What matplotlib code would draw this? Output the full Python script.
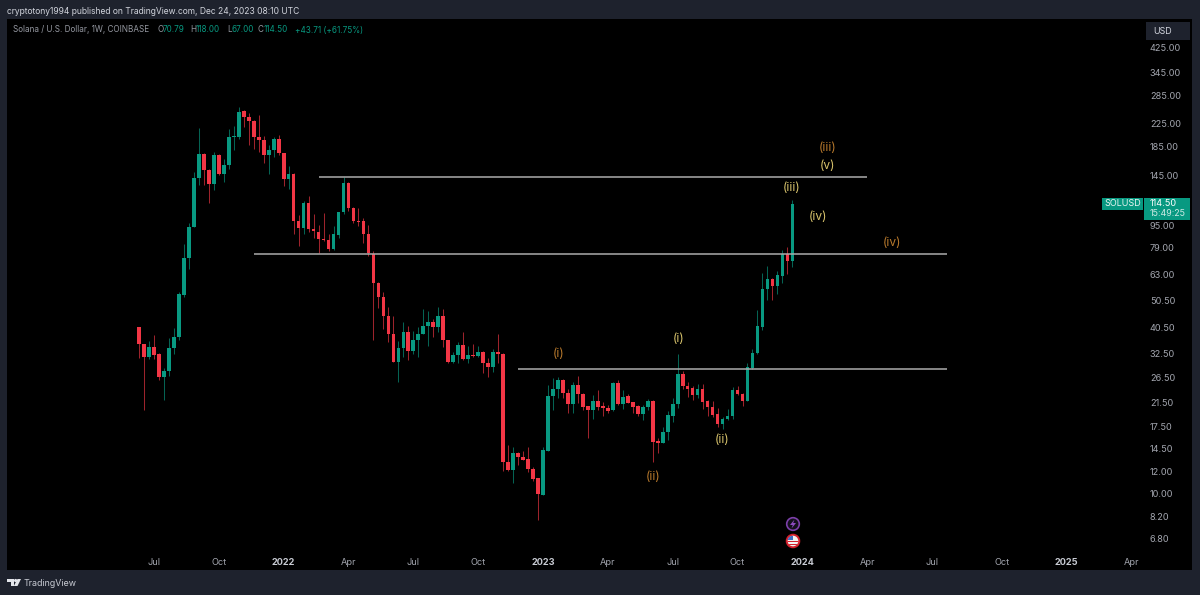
import matplotlib
matplotlib.use("Agg")
import matplotlib.pyplot as plt
from matplotlib.patches import Rectangle, Circle, Polygon
from matplotlib.ticker import FixedLocator, FixedFormatter, NullLocator
import numpy as np

# Weekly SOL/USD candles
opens = [40.4, 35.1, 31.6, 34.1, 32.2, 26.5, 28.0, 34.0, 37.4, 53.1,
         72.4, 94.1, 142, 174, 152, 135, 173, 147, 159, 200,
         201.5, 250, 238, 230, 200, 196, 172, 179.5, 198, 175,
         141, 147.5, 99.3, 93, 115, 92.5, 90, 85.2, 84.2, 78,
         88, 106.5, 136.5, 110.5, 99.3, 98.8, 89, 75, 58.7, 52,
         44.6, 38.3, 30.3, 33.9, 39, 33, 36.4, 38.2, 40.8, 42.1,
         40.4, 44.5, 36.2, 30.1, 32, 34.8, 30.9, 32, 31.7, 32.8,
         29.9, 29, 32.7, 32.4, 13, 12.1, 14, 13.6, 13.3, 12.3,
         11.4, 9.85, 14.3, 22.7, 24.1, 26, 23.3, 21.2, 24.8, 23,
         20.9, 20.2, 21.8, 20.9, 20.4, 20.1, 25.3, 21.2, 22.6, 21.5,
         20.8, 19.4, 20.6, 21.7, 15.5, 15.3, 16.8, 19.2, 21.1, 27.3,
         24.7, 24.2, 22.9, 24.1, 21.7, 20.7, 19.5, 17.9, 18.6, 19.1,
         23.9, 23.1, 21.7, 28.8, 32.5, 40.6, 55.9, 60.8, 57.3, 62.5,
         75, 70.79]
highs = [40.4, 35.1, 35.9, 38.0, 32.5, 28.6, 36.9, 40.2, 54.6, 81.7,
         97.2, 150, 216, 175, 154, 177.5, 174, 167, 214, 220,
         258, 252, 245, 232, 242, 203, 188, 200, 204.5, 176,
         157, 148, 104, 117.5, 122, 105, 95.4, 106, 89, 94.8,
         107, 143.5, 137, 111, 110.5, 101.5, 96, 77, 59, 54.6,
         48.1, 44.5, 35.9, 42.4, 40.9, 39.3, 40.6, 47.1, 46.5, 43.3,
         48.1, 47.1, 36.4, 32.9, 35.6, 38.7, 34.6, 35.2, 34.4, 33.2,
         31.2, 33.6, 38.3, 32.6, 15, 14.8, 14.1, 14.2, 14.8, 12.5,
         11.4, 14.8, 24.9, 26.4, 26.5, 26.2, 24, 25.4, 26.9, 23.2,
         20.9, 22.9, 23.9, 21.6, 21, 25.4, 26, 23.9, 23, 21.6,
         21, 21, 22.1, 21.9, 15.9, 17.5, 19.9, 22.2, 32.2, 28,
         25.4, 24.7, 25.1, 25.1, 21.9, 21.8, 20.5, 19, 20.3, 24.5,
         24.7, 23.2, 30, 33.6, 46.8, 63.9, 67.9, 61.2, 65.2, 77.6,
         79.7, 118]
lows = [31.3, 20.1, 30.9, 30.9, 26, 22, 26.9, 32.2, 36.4, 52,
        66.2, 94, 134, 134, 115.6, 128.7, 146, 138, 153, 180,
        198, 218, 187, 181, 177.5, 161, 147.5, 169, 173, 133,
        130, 88.6, 80.5, 88.9, 89.9, 85.6, 75.5, 83.7, 77.1, 77.6,
        86, 105, 108, 97.7, 94.8, 81.9, 74, 36.2, 47.5, 39.8,
        35.6, 30.3, 25.6, 31.4, 30.7, 32.2, 31.6, 38.1, 34.4, 37.2,
        39, 34.2, 30, 30, 30, 30.7, 29.9, 31.6, 31.6, 27.5,
        26.7, 27.8, 30, 12, 12, 10.9, 12.7, 13.2, 11.9, 11.1,
        7.95, 9.8, 14.3, 20.1, 22.2, 22.2, 19.6, 19.6, 21.3, 20.2,
        15.9, 18.6, 20.1, 19.2, 19.7, 20, 21, 20.3, 21.3, 19.7,
        19.2, 18.5, 20.2, 13, 14, 15.2, 15.6, 18.2, 20.5, 24,
        22.5, 22, 22.2, 20.3, 19.2, 19, 17.5, 17.1, 18.5, 18.6,
        22.8, 20.8, 21.7, 28.5, 32.4, 39.6, 50.9, 50.9, 53.3, 58.9,
        63.1, 67]
closes = [35.1, 31.6, 34.2, 32.0, 26.5, 28.0, 34.0, 37.4, 53.6, 72.4,
          94.1, 142, 174, 152, 135, 173, 147, 159, 201.5, 203,
          248.5, 238, 230, 200, 196, 172, 179.5, 198, 176, 141,
          147.5, 99.3, 93, 115, 92.5, 90.6, 85.2, 84.2, 78, 88.6,
          106.5, 136.5, 110, 99.3, 98.3, 89, 75.5, 58.7, 52, 44.6,
          38.3, 30.3, 33.9, 39, 33.2, 36.4, 38.3, 40.8, 42.1, 40.5,
          44.5, 36.2, 30.1, 32, 34.8, 30.9, 32, 31.7, 32.8, 29.9,
          29, 32.8, 32.3, 13, 12.1, 14, 13.6, 13.2, 12.3, 11.3,
          9.9, 14.4, 22.7, 24.1, 26, 23.2, 21.2, 24.8, 23, 20.6,
          20.2, 21.8, 20.7, 20.4, 20, 25.3, 21.2, 22.5, 21.4, 20.6,
          19.4, 20.6, 21.7, 15.4, 15.3, 16.8, 19.3, 21.2, 27.3, 24.6,
          24, 22.9, 24.1, 21.5, 20.6, 19.3, 17.9, 18.7, 19.2, 23.9,
          23, 21.7, 28.9, 32.6, 40.9, 56, 60.8, 57, 62.8, 75,
          70.4, 114.5]

# price axis and time axis
price_ticks = [425, 345, 285, 225, 185, 145, 95, 79, 63, 50.5, 40.5, 32.5,
               26.5, 21.5, 17.5, 14.5, 12, 10, 8.2, 6.8]
time_ticks = [3, 16, 29, 42, 55, 68, 81, 94, 107, 120, 133, 146, 159, 173, 186, 199]
time_labels = ["Jul", "Oct", "2022", "Apr", "Jul", "Oct", "2023", "Apr", "Jul", "Oct",
               "2024", "Apr", "Jul", "Oct", "2025", "Apr"]

# horizontal levels: price, first bar, last bar
levels = [143, 75.1, 28.4]
level_start = [36, 23, 76]
level_end = [146, 162, 162]

# wave counts
wave_names = ["(i)", "(ii)", "(iii)", "(iv)", "(i)", "(ii)", "(iii)", "(iv)", "(v)"]
wave_x = [84.2, 103, 138, 151, 108.1, 117, 130.9, 136.1, 138]
wave_y = [32.3, 11.5, 183, 82.3, 36.7, 15.6, 131, 102.5, 157.2]
wave_orange = [True, True, True, True, False, False, False, False, False]

GREEN = "#089981"
RED = "#f23645"
FRAME = "#1e222d"
GREY = "#a3a6af"
plt.rcParams["font.family"] = ["Inter", "DejaVu Sans"]

W, H = 1200, 595
fig = plt.figure(figsize=(W / 100, H / 100), dpi=100, facecolor=FRAME)
fig.add_artist(Rectangle((7 / W, 1 - 570 / H), 1185 / W, 551 / H, transform=fig.transFigure,
                         facecolor="black", edgecolor="none", zorder=-1))

ax = fig.add_axes([7 / W, 1 - 551 / H, 1138 / W, 532 / H], facecolor="black")
ax.set_yscale("log")
ax.set_xlim(-26.47, 201.7)
ax.set_ylim(6.14, 542.6)

x = np.arange(len(opens))
o = np.array(opens)
h = np.array(highs)
l = np.array(lows)
c = np.array(closes)
up = c >= o
colors = np.where(up, GREEN, RED)

ax.vlines(x, l, h, colors=colors, linewidth=0.75, alpha=0.65, zorder=2)
ax.bar(x, np.abs(c - o), bottom=np.minimum(o, c), width=0.74, color=colors, linewidth=0, zorder=3)

for price, x0, x1 in zip(levels, level_start, level_end):
    ax.plot([x0, x1], [price, price], color="#ababab", linewidth=1.1, zorder=4, solid_capstyle="butt")

for name, wx, wy, orange in zip(wave_names, wave_x, wave_y, wave_orange):
    ax.text(wx, wy, name, color="#b8792c" if orange else "#d9c46c", fontsize=8.6,
            ha="center", va="center", zorder=5)

for s in ax.spines.values():
    s.set_visible(False)
ax.yaxis.tick_right()
ax.yaxis.set_major_locator(FixedLocator(price_ticks))
ax.yaxis.set_major_formatter(FixedFormatter([f"{p:.2f}" for p in price_ticks]))
ax.yaxis.set_minor_locator(NullLocator())
ax.xaxis.set_major_locator(FixedLocator(time_ticks))
ax.xaxis.set_major_formatter(FixedFormatter(time_labels))
ax.tick_params(axis="y", length=0, pad=3.5, labelsize=6.6, labelcolor=GREY)
ax.tick_params(axis="x", length=0, pad=5, labelsize=6.6, labelcolor=GREY)
for t in ax.get_xticklabels():
    if t.get_text().isdigit():
        t.set_fontweight("bold")
        t.set_color("#c8cbd3")

# overlay in pixel coordinates for the header, tags and logo
over = fig.add_axes([0, 0, 1, 1], facecolor="none", zorder=5)
over.set_xlim(0, W)
over.set_ylim(H, 0)
over.axis("off")

over.text(7, 11, "cryptotony1994 published on TradingView.com, Dec 24, 2023 08:10 UTC",
          color="#d1d4dc", fontsize=6.1, va="center")

legend_parts = [(13, "Solana / U.S. Dollar, 1W, COINBASE", "#9598a1"),
                (157, "O", "#9598a1"), (163, "70.79", GREEN),
                (190, "H", "#9598a1"), (196, "118.00", GREEN),
                (227, "L", "#9598a1"), (232, "67.00", GREEN),
                (258, "C", "#9598a1"), (264, "114.50", GREEN),
                (295, "+43.71 (+61.75%)", GREEN)]
for px, s, col in legend_parts:
    over.text(px, 30, s, color=col, fontsize=5.85, va="center")

# currency button
over.add_patch(Rectangle((1146, 22), 44, 18, facecolor=FRAME, edgecolor="none"))
over.text(1153, 31, "USD", color="#d1d4dc", fontsize=6.4, va="center")

# last price tags
over.add_patch(Rectangle((1102, 198), 41, 12, facecolor=GREEN, edgecolor="none"))
over.add_patch(Rectangle((1144, 198), 46, 22, facecolor=GREEN, edgecolor="none"))
over.text(1122.5, 204, "SOLUSD", color="#e8f5f2", fontsize=6.5, ha="center", va="center")
over.text(1150, 204, "114.50", color="white", fontsize=6.6, va="center")
over.text(1150, 214, "15:49:25", color="#cdeae4", fontsize=6.4, va="center")

# event icons under the bars
over.add_patch(Circle((793, 524), 6.3, facecolor="#14101c", edgecolor="#7b3fa8", linewidth=1.2))
over.add_patch(Polygon([(794.5, 519.5), (790, 525), (792.8, 525), (791.5, 528.5),
                        (796, 523), (793.2, 523)], facecolor="#8e4cc0", edgecolor="none"))
over.add_patch(Circle((793, 541), 6.3, facecolor="#f2f2f2", edgecolor="#d3202c", linewidth=1.4))
stripe = over.add_patch(Rectangle((787, 540.5), 12, 1.6, facecolor="#d3202c", edgecolor="none"))
stripe2 = over.add_patch(Rectangle((787, 543.6), 12, 1.6, facecolor="#d3202c", edgecolor="none"))
canton = over.add_patch(Rectangle((787, 535.5), 6, 4.8, facecolor="#3f6fc4", edgecolor="none"))
clip = Circle((793, 541), 5.4, transform=over.transData)
for p in (stripe, stripe2, canton):
    p.set_clip_path(clip)

# logo and wordmark
over.add_patch(Polygon([(7, 579), (14, 579), (14, 586), (10.5, 586), (10.5, 582), (7, 582)],
                       facecolor="#e3e5ea", edgecolor="none"))
over.add_patch(Circle((15.6, 580.5), 1.6, facecolor="#e3e5ea", edgecolor="none"))
over.add_patch(Polygon([(17.5, 579), (21, 579), (17.5, 586), (13.8, 586)],
                       facecolor="#e3e5ea", edgecolor="none"))
over.text(24, 583, "TradingView", color="#c8cbd3", fontsize=6.4, va="center")

fig.savefig("out.png", dpi=100, facecolor=fig.get_facecolor())
